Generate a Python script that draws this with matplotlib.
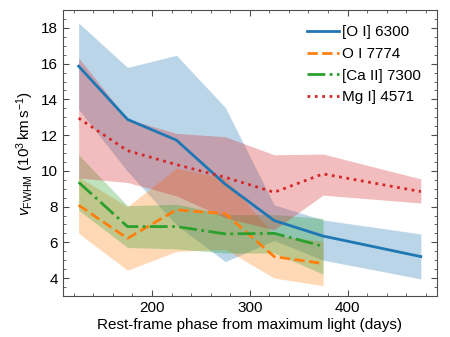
import matplotlib
matplotlib.use('Agg')
import numpy as np
import matplotlib.pyplot as plt
from matplotlib.ticker import AutoMinorLocator

plt.rcParams['font.family'] = ['Liberation Sans', 'DejaVu Sans']
plt.rcParams['mathtext.fontset'] = 'custom'
plt.rcParams['mathtext.rm'] = 'Liberation Sans'
plt.rcParams['mathtext.it'] = 'Liberation Sans:italic'
plt.rcParams['font.size'] = 11
plt.rcParams['axes.edgecolor'] = '0.3'

# Phase bins (days) and FWHM velocities (10^3 km/s)
phase = [125, 175, 225, 275, 325, 375, 475]

oi6300 = [15.86, 12.88, 11.72, 9.25, 7.22, 6.35, 5.2]
oi6300_hi = [18.28, 15.79, 16.47, 13.55, 8.1, 7.25, 6.47]
oi6300_lo = [13.44, 9.97, 6.97, 4.92, 6.1, 5.0, 3.95]

oi7774 = [8.08, 6.22, 7.82, 7.6, 5.2, 4.81]
oi7774_hi = [9.66, 8.0, 10.15, 9.59, 6.4, 6.05]
oi7774_lo = [6.5, 4.44, 5.49, 5.61, 4.0, 3.57]

caii = [9.36, 6.88, 6.88, 6.47, 6.5, 5.78]
caii_hi = [10.9, 8.05, 8.13, 7.55, 7.55, 7.34]
caii_lo = [7.8, 5.71, 5.63, 5.4, 5.4, 4.22]

mgi = [12.95, 11.13, 10.35, 9.64, 8.8, 9.83, 8.84]
mgi_hi = [16.32, 12.9, 12.1, 11.91, 10.9, 10.94, 9.55]
mgi_lo = [9.6, 9.35, 8.6, 7.37, 6.7, 8.64, 8.2]

fig, ax = plt.subplots(figsize=(4.5, 3.37), dpi=100)
fig.subplots_adjust(left=0.14, right=0.97, bottom=0.122, top=0.97)

series = [
    ('[O I] 6300', oi6300, oi6300_lo, oi6300_hi, 'C0', '-'),
    ('O I 7774', oi7774, oi7774_lo, oi7774_hi, 'C1', '--'),
    ('[Ca II] 7300', caii, caii_lo, caii_hi, 'C2', '-.'),
    ('Mg I] 4571', mgi, mgi_lo, mgi_hi, 'C3', ':'),
]

for label, y, lo, hi, col, ls in series:
    x = phase[:len(y)]
    ax.fill_between(x, lo, hi, color=col, alpha=0.3, lw=0)
    ax.plot(x, y, color=col, ls=ls, lw=2.0, label=label)

ax.set_xlim(109, 491)
ax.set_ylim(3, 19)
ax.set_xticks([200, 300, 400])
ax.set_yticks(np.arange(4, 19, 2))
ax.xaxis.set_minor_locator(AutoMinorLocator(5))
ax.yaxis.set_minor_locator(AutoMinorLocator(4))
ax.tick_params(which='both', direction='in', top=True, right=True, color='0.3')
ax.tick_params(which='major', length=4)
ax.tick_params(which='minor', length=2)

ax.set_xlabel('Rest-frame phase from maximum light (days)', labelpad=2)
ax.set_ylabel(r'$v_{\rm FWHM}$ $(10^3\,\rm km\,s^{-1})$')
ax.legend(loc='upper right', frameon=False, handlelength=2.1,
          handletextpad=0.2, labelspacing=0.5, borderaxespad=0.6)

fig.savefig('out.png', dpi=100)
